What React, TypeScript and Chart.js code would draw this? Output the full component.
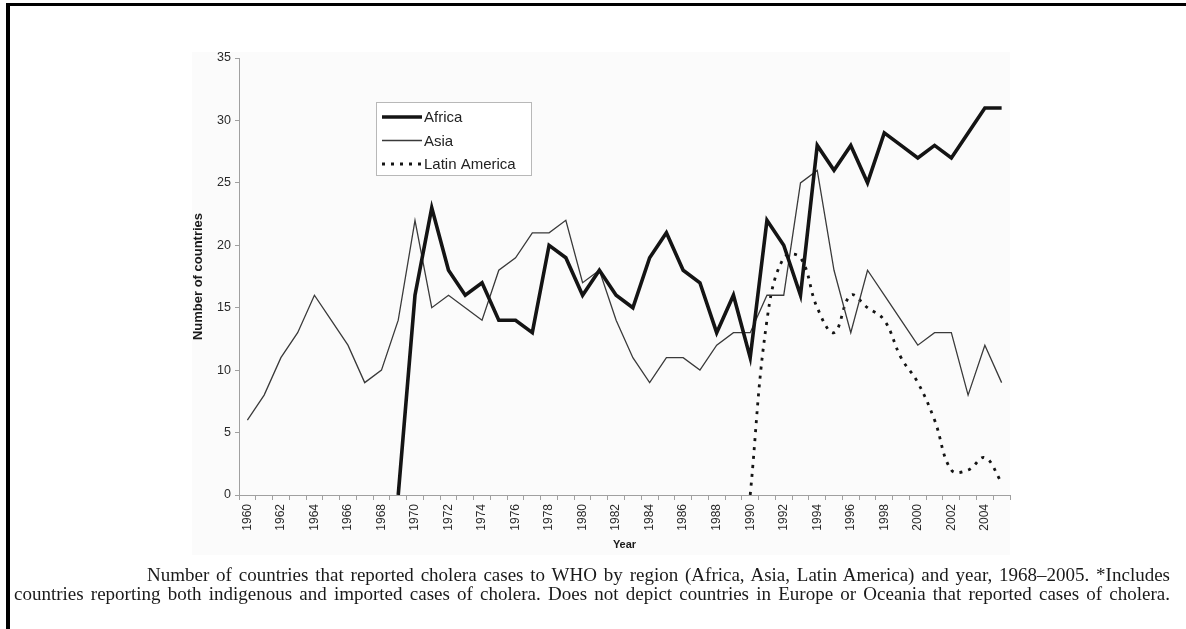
import React, { useEffect, useRef } from 'react';
import { Chart, registerables } from 'chart.js';

Chart.register(...registerables);

const years = [
  '1960', '1961', '1962', '1963', '1964', '1965', '1966', '1967', '1968', '1969',
  '1970', '1971', '1972', '1973', '1974', '1975', '1976', '1977', '1978', '1979',
  '1980', '1981', '1982', '1983', '1984', '1985', '1986', '1987', '1988', '1989',
  '1990', '1991', '1992', '1993', '1994', '1995', '1996', '1997', '1998', '1999',
  '2000', '2001', '2002', '2003', '2004', '2005',
];

const africa = [
  null, null, null, null, null, null, null, null, null, 0,
  16, 23, 18, 16, 17, 14, 14, 13, 20, 19,
  16, 18, 16, 15, 19, 21, 18, 17, 13, 16,
  11, 22, 20, 16, 28, 26, 28, 25, 29, 28,
  27, 28, 27, 29, 31, 31,
];

const asia = [
  6, 8, 11, 13, 16, 14, 12, 9, 10, 14,
  22, 15, 16, 15, 14, 18, 19, 21, 21, 22,
  17, 18, 14, 11, 9, 11, 11, 10, 12, 13,
  13, 16, 16, 25, 26, 18, 13, 18, 16, 14,
  12, 13, 13, 8, 12, 9,
];

const latinAmerica = [
  null, null, null, null, null, null, null, null, null, null,
  null, null, null, null, null, null, null, null, null, null,
  null, null, null, null, null, null, null, null, null, null,
  0, 14, 19, 19, 15, 13, 16, 15, 14, 11,
  9, 6, 2, 2, 3, 1,
];

const seriesNames = ['Africa', 'Asia', 'Latin America'];
const yAxisTitle = 'Number of countries';
const xAxisTitle = 'Year';
const captionLine1 =
  'Number of countries that reported cholera cases to WHO by region (Africa, Asia, Latin America) and year, 1968–2005. *Includes';
const captionLine2 =
  'countries reporting both indigenous and imported cases of cholera. Does not depict countries in Europe or Oceania that reported cases of cholera.';

const SANS = '"Liberation Sans", Arial, sans-serif';

const boxLegend = {
  id: 'boxLegend',
  afterDraw(chart: any) {
    const ctx = chart.ctx;
    const bx = 376;
    const by = 102;
    const bw = 155;
    const bh = 73;
    ctx.save();
    ctx.fillStyle = '#ffffff';
    ctx.fillRect(bx, by, bw, bh);
    ctx.strokeStyle = '#b8b8b8';
    ctx.lineWidth = 1;
    ctx.setLineDash([]);
    ctx.strokeRect(bx + 0.5, by + 0.5, bw, bh);
    chart.data.datasets.forEach((ds: any, i: number) => {
      const cy = by + 15 + i * 23.5;
      ctx.beginPath();
      ctx.setLineDash(ds.borderDash || []);
      ctx.lineWidth = ds.borderWidth;
      ctx.strokeStyle = ds.borderColor;
      ctx.moveTo(382, cy);
      ctx.lineTo(422, cy);
      ctx.stroke();
      ctx.setLineDash([]);
      ctx.fillStyle = '#222';
      ctx.font = '15px ' + SANS;
      ctx.textBaseline = 'middle';
      ctx.textAlign = 'left';
      ctx.fillText(ds.label, 424, cy + 1);
    });
    ctx.restore();
  },
};

export default function App() {
  const canvasRef = useRef<HTMLCanvasElement | null>(null);

  useEffect(() => {
    document.body.style.margin = '0';
    const canvas = canvasRef.current;
    if (!canvas) return;
    const chart = new Chart(canvas, {
      type: 'line',
      data: {
        labels: years,
        datasets: [
          {
            label: seriesNames[0],
            data: africa,
            borderColor: '#141414',
            borderWidth: 3.6,
            pointRadius: 0,
            tension: 0,
            fill: false,
            spanGaps: false,
          },
          {
            label: seriesNames[1],
            data: asia,
            borderColor: '#3a3a3a',
            borderWidth: 1.3,
            pointRadius: 0,
            tension: 0,
            fill: false,
          },
          {
            label: seriesNames[2],
            data: latinAmerica,
            borderColor: '#141414',
            borderWidth: 2.8,
            borderDash: [3, 6],
            pointRadius: 0,
            tension: 0.4,
            fill: false,
          },
        ],
      },
      options: {
        animation: false,
        responsive: false,
        maintainAspectRatio: false,
        layout: { padding: { left: 191, top: 58, right: 176, bottom: 77 } },
        plugins: {
          legend: { display: false },
          tooltip: { enabled: false },
        },
        scales: {
          x: {
            type: 'category',
            offset: true,
            grid: {
              offset: true,
              drawOnChartArea: false,
              drawTicks: true,
              tickLength: 5,
              color: '#a0a0a0',
            },
            border: { display: true, color: '#a0a0a0', width: 1 },
            ticks: {
              autoSkip: false,
              minRotation: 90,
              maxRotation: 90,
              padding: 4,
              color: '#2a2a2a',
              font: { family: SANS, size: 12 },
              callback: (_v: any, i: number) => (i % 2 === 0 ? years[i] : ''),
            },
            title: {
              display: true,
              text: xAxisTitle,
              color: '#1a1a1a',
              font: { family: SANS, size: 11, weight: 'bold' },
              padding: 0,
            },
            afterFit: (s: any) => {
              s.height = 57;
            },
          },
          y: {
            min: 0,
            max: 35,
            ticks: {
              stepSize: 5,
              padding: 4,
              color: '#2a2a2a',
              font: { family: SANS, size: 12.5 },
            },
            grid: {
              drawOnChartArea: false,
              drawTicks: true,
              tickLength: 4,
              color: '#a0a0a0',
            },
            border: { display: true, color: '#a0a0a0', width: 1 },
            title: {
              display: true,
              text: yAxisTitle,
              color: '#1a1a1a',
              font: { family: SANS, size: 13, weight: 'bold' },
              padding: 0,
            },
            afterFit: (s: any) => {
              s.width = 48;
            },
          },
        },
      },
      plugins: [boxLegend],
    });
    return () => chart.destroy();
  }, []);

  return (
    <div style={{ position: 'absolute', left: 0, top: 0, width: 1186, height: 629, background: '#fff', overflow: 'hidden' }}>
      <div
        style={{
          position: 'absolute',
          left: 6,
          top: 3,
          width: 1180,
          height: 626,
          borderTop: '3px solid #000',
          borderLeft: '4px solid #000',
          boxSizing: 'border-box',
        }}
      />
      <div style={{ position: 'absolute', left: 192, top: 52, width: 818, height: 503, background: '#fbfbfb' }} />
      <canvas ref={canvasRef} width={1186} height={629} style={{ position: 'absolute', left: 0, top: 0, width: 1186, height: 629 }} />
      <div
        style={{
          position: 'absolute',
          left: 14,
          top: 565,
          width: 1156,
          fontFamily: '"Liberation Serif", "Times New Roman", serif',
          fontSize: 19,
          lineHeight: '19px',
          color: '#1a1a1a',
        }}
      >
        <div style={{ textAlign: 'justify', textAlignLast: 'justify', paddingLeft: 133 }}>{captionLine1}</div>
        <div style={{ textAlign: 'justify', textAlignLast: 'justify' }}>{captionLine2}</div>
      </div>
    </div>
  );
}
